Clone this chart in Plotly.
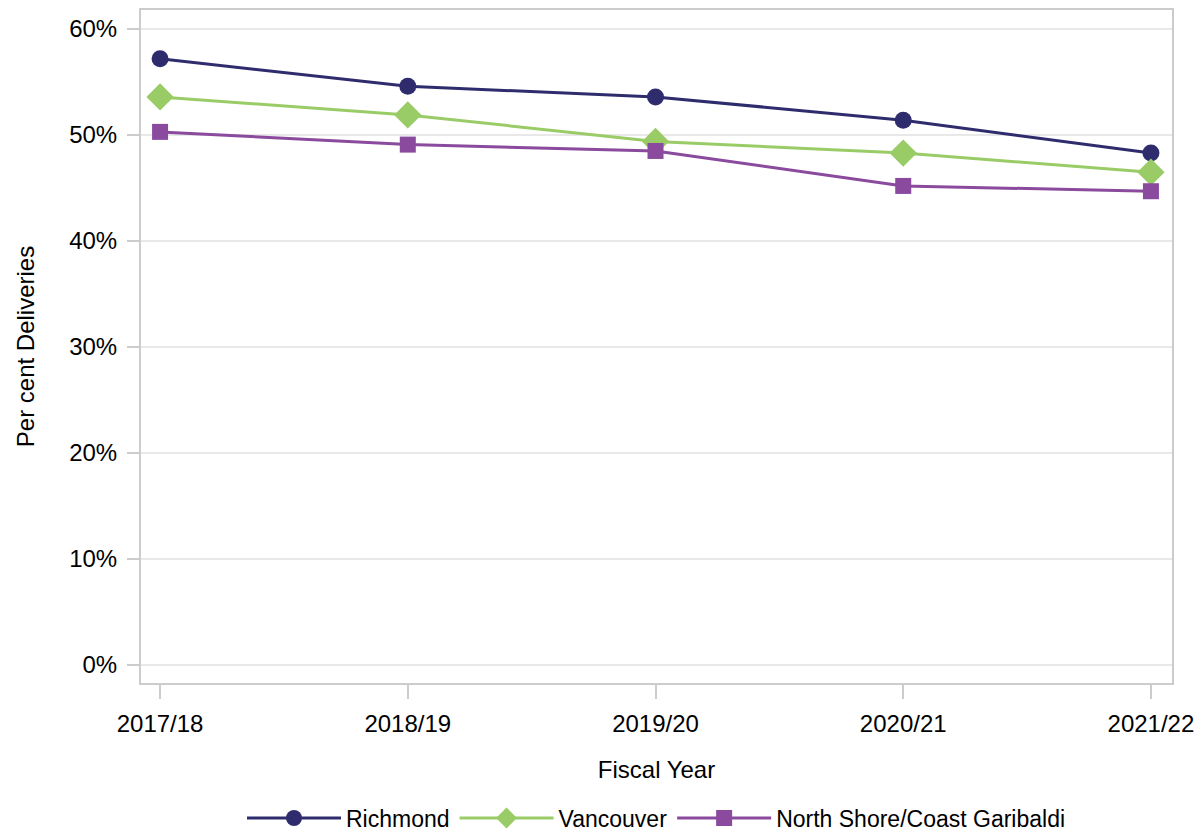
import plotly.graph_objects as go

years = ["2017/18", "2018/19", "2019/20", "2020/21", "2021/22"]
richmond = [57.2, 54.6, 53.6, 51.4, 48.3]
vancouver = [53.6, 51.9, 49.4, 48.3, 46.5]
north_shore = [50.3, 49.1, 48.5, 45.2, 44.7]
y_ticks = [0, 10, 20, 30, 40, 50, 60]
y_tick_labels = ["0%", "10%", "20%", "30%", "40%", "50%", "60%"]

font_family = "Liberation Sans, Arial, sans-serif"

fig = go.Figure()
series = [
    ("Richmond", richmond, "#2e2c6c", "circle", 17),
    ("Vancouver", vancouver, "#99cc66", "diamond", 21),
    ("North Shore/Coast Garibaldi", north_shore, "#8a4a9e", "square", 16),
]
for name, vals, color, sym, size in series:
    fig.add_trace(go.Scatter(
        x=list(range(len(years))), y=vals, name=name, mode="lines+markers",
        line=dict(color=color, width=3),
        marker=dict(symbol=sym, size=size, color=color),
    ))

fig.update_layout(
    width=1202, height=831, autosize=False,
    margin=dict(l=141, r=30, t=10, b=148),
    plot_bgcolor="white", paper_bgcolor="white",
    font=dict(family=font_family, size=24, color="black"),
    showlegend=True,
    legend=dict(orientation="h", x=0.5, xanchor="center",
                yref="container", y=0.0156, yanchor="middle",
                font=dict(size=23), itemwidth=94, traceorder="normal"),
    xaxis=dict(
        range=[-0.077, 4.085], automargin=False,
        tickmode="array", tickvals=list(range(len(years))), ticktext=years,
        showline=True, mirror=True, linecolor="#cccccc", linewidth=2,
        ticks="outside", ticklen=14, tickwidth=2, tickcolor="#cccccc",
        showgrid=False, zeroline=False, ticklabelstandoff=4,
        title=dict(text="Fiscal Year", standoff=25, font=dict(size=24)),
        tickfont=dict(size=24),
    ),
    yaxis=dict(
        range=[-1.7, 61.8], automargin=False,
        tickmode="array", tickvals=y_ticks, ticktext=y_tick_labels,
        showline=True, mirror=True, linecolor="#cccccc", linewidth=2,
        ticks="outside", ticklen=12, tickwidth=2, tickcolor="#cccccc",
        showgrid=True, gridcolor="#e8e8e8", gridwidth=2, zeroline=False,
        ticklabelstandoff=5,
        title=dict(text="Per cent Deliveries", standoff=28, font=dict(size=24)),
        tickfont=dict(size=24),
    ),
)

fig.write_html("out.html", config={"responsive": False, "displayModeBar": False},
               post_script="document.body.style.margin='0';document.body.style.overflow='hidden';")
